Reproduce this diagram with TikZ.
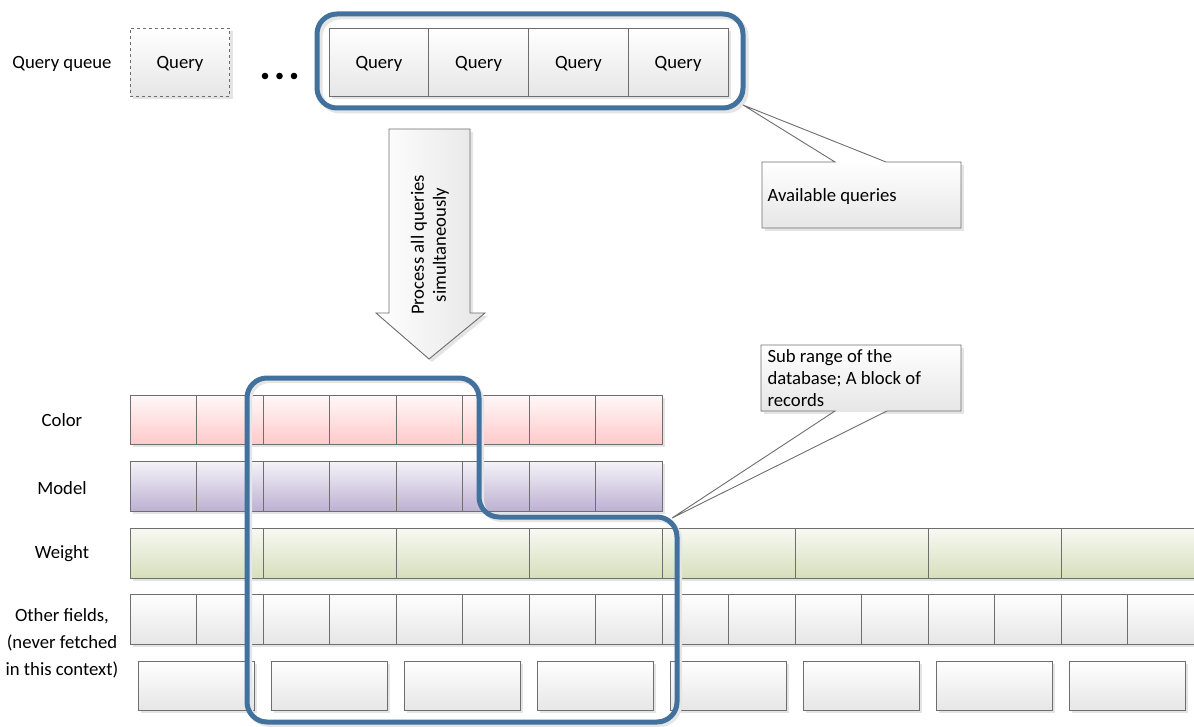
\documentclass[tikz,border=0pt]{standalone}
\usepackage{fontspec}
\setmainfont{Carlito}
\definecolor{bord}{HTML}{6E6E6E}
\definecolor{blu}{HTML}{41719C}
\definecolor{pinkT}{HTML}{FFF8F8}
\definecolor{pinkB}{HTML}{FFCACA}
\definecolor{purT}{HTML}{F5F3F9}
\definecolor{purB}{HTML}{BDB1D2}
\definecolor{grnT}{HTML}{F8F9F3}
\definecolor{grnB}{HTML}{D6DFBC}
\definecolor{gryT}{HTML}{FFFFFF}
\definecolor{gryB}{HTML}{E6E6E6}
\definecolor{shad}{HTML}{E4E4E4}
\tikzset{
  cellline/.style={draw=bord, line width=0.9pt},
  qbox/.style={draw=bord, line width=0.9pt, top color=gryT, bottom color=gryB,
    minimum width=99.75pt, minimum height=68pt, inner sep=0pt, text depth=0pt},
  blueline/.style={draw=blu, line width=5pt, rounded corners=20pt, line join=round},
  blueshadow/.style={draw=black!10, line width=5pt, rounded corners=20pt, line join=round},
  lbl/.style={align=center, inner sep=0pt},
}
\begin{document}
\begin{tikzpicture}[x=1pt, y=-1pt, font=\fontsize{18.7}{22}\selectfont]
\useasboundingbox (0,0) rectangle (1194,727);

% ---- query queue ----
\node[lbl] (qq) at (62,63.5) {Query queue};
\fill[shad] (133,31) rectangle (233,99);
\node[qbox, dashed] (q0) at (180,62) {Query};
\fill (265,76) circle (3.3);
\fill (279.5,76) circle (3.3);
\fill (294,76) circle (3.3);
\fill[shad] (332,31) rectangle (731,99);
\node[qbox] (q1) at (378.9,62) {Query};
\node[qbox] (q2) at (478.6,62) {Query};
\node[qbox] (q3) at (578.4,62) {Query};
\node[qbox] (q4) at (678.1,62) {Query};
\draw[blueshadow] (320,17) rectangle (746,111);
\draw[blueline] (317,14) rectangle (743,108);

% ---- callout: available queries ----
\fill[shad] (765,165) rectangle (964,231);
\fill[white] (762,162) -- (835,162) -- (743,105) -- (886,162) -- (961,162) -- (961,228) -- (762,228) -- cycle;
\shade[top color=gryT, bottom color=gryB] (762,162) rectangle (961,228);
\draw[cellline] (762,162) -- (835,162) -- (743,105) -- (886,162) -- (961,162) -- (961,228) -- (762,228) -- cycle;
\node[anchor=west] (avail) at (764,197) {Available queries};

% ---- big arrow ----
\fill[shad] (392,132) -- (473,132) -- (473,316) -- (488,316) -- (432,362) -- (379,316) -- (392,316) -- cycle;
\draw[cellline, left color=white, right color=gryB] (389,129) -- (470,129) -- (470,313) -- (485,313) -- (429,359) -- (376,313) -- (389,313) -- cycle;
\node[rotate=90, align=center] (proc) at (430,245) {Process all queries\\simultaneously};

% ---- rows ----
\node[lbl] (lcolor) at (62,420.5) {Color};
\node[lbl] (lmodel) at (62,488.5) {Model};
\node[lbl] (lweight) at (62,553.5) {Weight};
\node[lbl, align=center, font=\fontsize{18.7}{27}\selectfont] (lother) at (62,643) {Other fields,\\(never fetched\\in this context)};

\fill[shad] (133,398) rectangle (665,447);
\foreach \i in {0,...,7}
  \draw[cellline, top color=pinkT, bottom color=pinkB] ({130+66.5*\i},395) rectangle ++(66.5,49);
\fill[shad] (133,464) rectangle (665,514);
\foreach \i in {0,...,7}
  \draw[cellline, top color=purT, bottom color=purB] ({130+66.5*\i},461) rectangle ++(66.5,50);
\fill[shad] (133,531) rectangle (1194,581);
\foreach \i in {0,...,7}
  \draw[cellline, top color=grnT, bottom color=grnB] ({130+133*\i},528) rectangle ++(133,50);
\fill[shad] (133,597) rectangle (1194,647);
\foreach \i in {0,...,15}
  \draw[cellline, top color=gryT, bottom color=gryB] ({130+66.5*\i},594) rectangle ++(66.5,50);
\foreach \i in {0,...,7}{
  \fill[shad] ({141+133*\i},664) rectangle ++(116,49);
  \draw[cellline, top color=gryT, bottom color=gryB] ({138+133*\i},661) rectangle ++(116,49);
}

% ---- block of records ----
\draw[blueshadow] (402.5,380.5) -- (481.5,380.5) -- (481.5,519.5) -- (679.5,519.5) -- (679.5,724.5) -- (249.5,724.5) -- (249.5,380.5) -- cycle;
\draw[blueline] (400,378) -- (479,378) -- (479,517) -- (677,517) -- (677,722) -- (247,722) -- (247,378) -- cycle;

% ---- callout: sub range ----
\fill[shad] (764,348) rectangle (964,414);
\fill[white] (761,345) -- (961,345) -- (961,411) -- (887,411) -- (672,518) -- (835,411) -- (761,411) -- cycle;
\shade[top color=gryT, bottom color=gryB] (761,345) rectangle (961,411);
\draw[cellline] (761,345) -- (961,345) -- (961,411) -- (887,411) -- (672,518) -- (835,411) -- (761,411) -- cycle;
\node[anchor=west, align=left] (subr) at (764,378) {Sub range of the\\database; A block of\\records};
\end{tikzpicture}
\end{document}
